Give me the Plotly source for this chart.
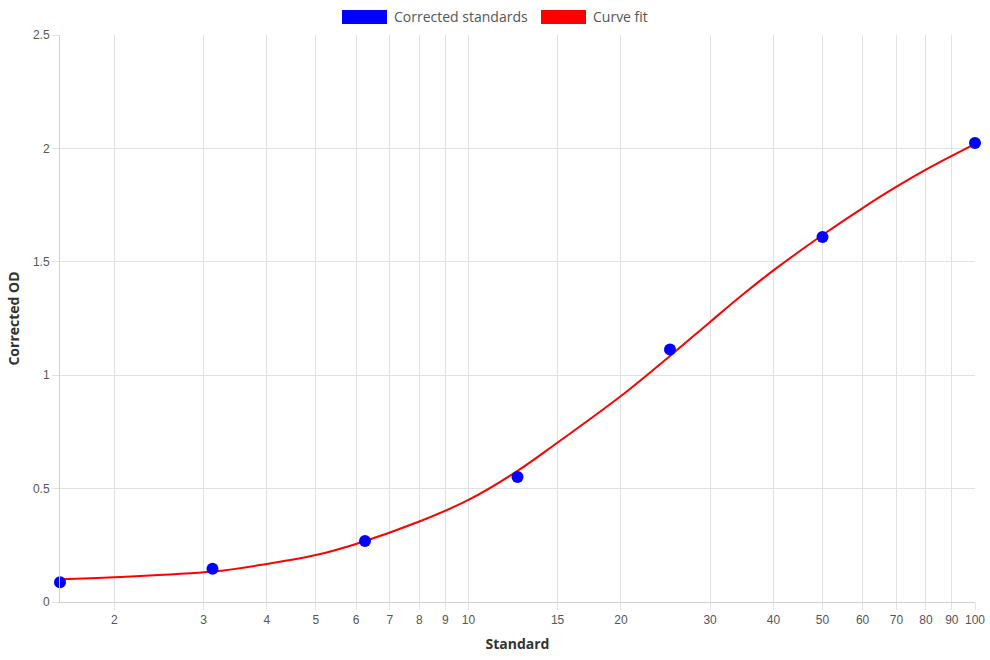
import plotly.graph_objects as go

# Data
std_x = [1.5625, 3.125, 6.25, 12.5, 25, 50, 100]
std_od = [0.087, 0.147, 0.269, 0.551, 1.113, 1.609, 2.024]

fit_x = [1.5625, 2, 3.125, 4, 5, 6, 8, 10, 12.5, 15, 20, 25, 30, 35, 40, 50, 60, 70, 80, 90, 100]
fit_od = [0.100, 0.109, 0.134, 0.168, 0.207, 0.256, 0.355, 0.450, 0.578, 0.703, 0.908, 1.085, 1.235, 1.360, 1.462, 1.618, 1.737, 1.831, 1.906, 1.967, 2.020]

x_ticks = [2, 3, 4, 5, 6, 7, 8, 9, 10, 15, 20, 30, 40, 50, 60, 70, 80, 90, 100]
y_ticks = [0, 0.5, 1, 1.5, 2, 2.5]
y_tick_text = ["0", "0.5", "1", "1.5", "2", "2.5"]

legend_labels = ["Corrected standards", "Curve fit"]
legend_colors = ["#0000ff", "#ff0000"]

fig = go.Figure()
fig.add_trace(go.Scatter(x=fit_x, y=fit_od, mode="lines", line=dict(color="#ff0000", width=2, shape="spline", smoothing=1.0),
                         showlegend=False, cliponaxis=False, hoverinfo="skip"))
fig.add_trace(go.Scatter(x=std_x, y=std_od, mode="markers", marker=dict(color="#0000ff", size=12),
                         showlegend=False, cliponaxis=False))

tick_font = dict(family="Liberation Sans, Arial", size=12, color="#555555")
title_font = dict(family="Open Sans, Inter", size=14, color="#333333")

fig.update_xaxes(type="log", range=[0.19382, 2.0], tickvals=x_ticks, ticktext=[str(v) for v in x_ticks],
                 showgrid=True, gridcolor="#e1e1e1", gridwidth=1, ticks="outside", ticklen=7, tickcolor="#e1e1e1",
                 showline=True, linecolor="#d0d0d0", linewidth=1, zeroline=False, mirror=False, automargin=False,
                 tickfont=tick_font, title=dict(text="<b>Standard</b>", font=title_font, standoff=12))
fig.update_yaxes(range=[0, 2.5], tickvals=y_ticks, ticktext=y_tick_text,
                 showgrid=True, gridcolor="#e1e1e1", gridwidth=1, ticks="outside", ticklen=7, tickcolor="#e1e1e1",
                 showline=True, linecolor="#d0d0d0", linewidth=1, zeroline=False, automargin=False,
                 tickfont=tick_font, title=dict(text="<b>Corrected OD</b>", font=title_font, standoff=10))

# Legend drawn as boxes + text (Chart.js style)
shapes = []
annotations = []
box_x = [342, 541]
text_x = [392, 591]
for i, (lab, col) in enumerate(zip(legend_labels, legend_colors)):
    shapes.append(dict(type="rect", xref="paper", yref="paper",
                       x0=(box_x[i] - 60) / 915, x1=(box_x[i] + 45 - 60) / 915,
                       y0=(602 - 24) / 567, y1=(602 - 10) / 567,
                       fillcolor=col, line=dict(width=0)))
    annotations.append(dict(text=lab, xref="paper", yref="paper", x=(text_x[i] - 60) / 915, y=(602 - 17) / 567,
                            xanchor="left", yanchor="middle", showarrow=False,
                            font=dict(family="Open Sans, Inter", size=14, color="#555555")))

fig.update_layout(width=990, height=660, margin=dict(l=60, r=15, t=35, b=58),
                  plot_bgcolor="white", paper_bgcolor="white", showlegend=False,
                  shapes=shapes, annotations=annotations)

fig.write_html("out.html")
